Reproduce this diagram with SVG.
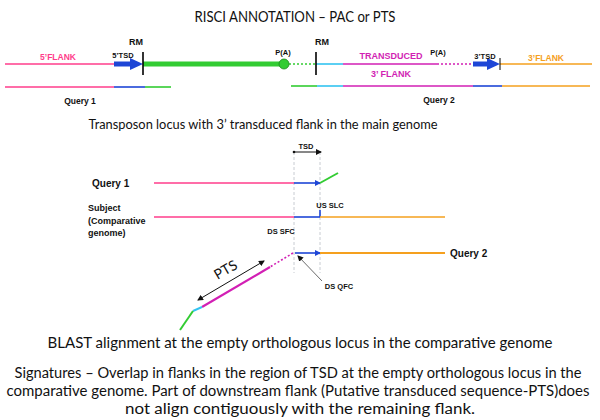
<svg xmlns="http://www.w3.org/2000/svg" width="600" height="420" viewBox="0 0 600 420">
<defs>
<style>
.t{font-family:Lato,"Open Sans","Liberation Sans",sans-serif;fill:#111}
.b{font-family:"Liberation Sans",Arial,sans-serif;font-weight:bold;fill:#111}
.pk{stroke:#ff3d8b;stroke-width:1.6;fill:none}
.mg{stroke:#d21fb4;stroke-width:1.6;fill:none}
.gr{stroke:#33cc33;stroke-width:1.6;fill:none}
.bl{stroke:#1e46d6;stroke-width:1.6;fill:none}
.cy{stroke:#33c3f0;stroke-width:1.6;fill:none}
.or{stroke:#f5a01e;stroke-width:1.6;fill:none}
.tk{stroke:#000;stroke-width:1.6}
.vd{stroke:#c8ccd2;stroke-width:1;stroke-dasharray:3,2}
</style>
<marker id="ab" markerWidth="6" markerHeight="6" refX="5" refY="3" orient="auto" markerUnits="userSpaceOnUse"><path d="M0,0 L6,3 L0,6 z" fill="#1e46d6"/></marker>
<marker id="ak" markerWidth="6" markerHeight="6" refX="5" refY="3" orient="auto-start-reverse" markerUnits="userSpaceOnUse"><path d="M0,0 L6,3 L0,6 z" fill="#111"/></marker>
</defs>
<text class="t" x="295" y="22" font-size="15" text-anchor="middle" textLength="201" lengthAdjust="spacingAndGlyphs">RISCI ANNOTATION – PAC or PTS</text>

<g id="connectors">
<!-- top locus -->
<line class="pk" x1="5" y1="64" x2="116" y2="64"/>
<line x1="114" y1="64" x2="131" y2="64" stroke="#1e46d6" stroke-width="5"/>
<path d="M130,58 L143,64 L130,70 z" fill="#1e46d6"/>
<line x1="143" y1="64" x2="280" y2="64" stroke="#33cc33" stroke-width="5"/>
<line x1="289" y1="64" x2="316" y2="64" stroke="#33cc33" stroke-width="1.6" stroke-dasharray="2,2"/>
<line class="cy" x1="316" y1="64" x2="343" y2="64"/>
<line class="mg" x1="343" y1="64" x2="437" y2="64"/>
<line x1="437" y1="64" x2="473" y2="64" stroke="#d21fb4" stroke-width="1.6" stroke-dasharray="2,2"/>
<line x1="473" y1="64" x2="488" y2="64" stroke="#1e46d6" stroke-width="5"/>
<path d="M487,58 L500,64 L487,70 z" fill="#1e46d6"/>
<line class="or" x1="500" y1="64" x2="592" y2="64"/>
<line x1="500" y1="58" x2="500" y2="70" stroke="#000" stroke-width="1"/>
<!-- query rows -->
<line class="pk" x1="5" y1="87" x2="114" y2="87"/>
<line class="bl" x1="114" y1="87" x2="145" y2="87"/>
<line class="gr" x1="145" y1="87" x2="171" y2="87"/>
<line class="gr" x1="291" y1="86" x2="317" y2="86"/>
<line class="cy" x1="317" y1="86" x2="343" y2="86"/>
<line class="mg" x1="343" y1="86" x2="473" y2="86"/>
<line class="bl" x1="473" y1="86" x2="502" y2="86"/>
<line class="or" x1="502" y1="86" x2="590" y2="86"/>

<!-- middle diagram -->
<line class="vd" x1="294" y1="152" x2="294" y2="273"/>
<line class="vd" x1="320" y1="152" x2="320" y2="273"/>
<line x1="294" y1="152" x2="321" y2="152" stroke="#111" stroke-width="1" marker-end="url(#ak)"/>
<circle cx="294" cy="152" r="1.3" fill="#111"/>
<line class="pk" x1="154" y1="183" x2="294" y2="183"/>
<line class="bl" x1="294" y1="183" x2="320" y2="183" marker-end="url(#ab)"/>
<line x1="320" y1="183" x2="338" y2="173" stroke="#33cc33" stroke-width="2"/>
<line class="pk" x1="154" y1="217" x2="294" y2="217"/>
<line class="bl" x1="294" y1="217" x2="320" y2="217"/>
<line class="bl" x1="320" y1="217" x2="320" y2="210"/>
<line class="or" x1="320" y1="217" x2="445" y2="217"/>
<line class="bl" x1="295" y1="253" x2="320" y2="253" marker-end="url(#ab)"/>
<line x1="320" y1="253" x2="445" y2="253" stroke="#f5a01e" stroke-width="2"/>
<line x1="293" y1="253" x2="270" y2="267" stroke="#d21fb4" stroke-width="1.6" stroke-dasharray="2,2"/>
<line x1="270" y1="267" x2="202" y2="307" stroke="#d21fb4" stroke-width="2.2"/>
<line x1="202" y1="307" x2="193" y2="311" stroke="#33c3f0" stroke-width="2"/>
<line x1="193" y1="311" x2="180" y2="330" stroke="#33cc33" stroke-width="2"/>
<line x1="198" y1="300" x2="264" y2="261" stroke="#111" stroke-width="1" marker-start="url(#ak)" marker-end="url(#ak)"/>
<line x1="322" y1="281" x2="298" y2="256" stroke="#444" stroke-width="0.8" marker-end="url(#ak)"/>
</g>

<g id="ticks">
<line class="tk" x1="143" y1="52" x2="143" y2="75"/>
<line class="tk" x1="316" y1="52" x2="316" y2="75"/>
<circle cx="284" cy="64" r="5" fill="#33cc33" stroke="#1a8a1a" stroke-width="0.8"/>
</g>

<g id="labels-top">
<text class="b" x="136" y="45" font-size="9" text-anchor="middle">RM</text>
<text class="b" x="322" y="45" font-size="9" text-anchor="middle">RM</text>
<text class="b" x="58" y="60" font-size="8.5" text-anchor="middle" style="fill:#ff3d8b">5’FLANK</text>
<text class="b" x="123" y="58" font-size="7.5" text-anchor="middle">5’TSD</text>
<text class="b" x="283" y="55" font-size="7.5" text-anchor="middle">P(A)</text>
<text class="b" x="391" y="59" font-size="9" text-anchor="middle" style="fill:#d21fb4">TRANSDUCED</text>
<text class="b" x="391" y="77" font-size="9" text-anchor="middle" style="fill:#d21fb4">3’ FLANK</text>
<text class="b" x="438" y="55" font-size="7.5" text-anchor="middle">P(A)</text>
<text class="b" x="485" y="59" font-size="7.5" text-anchor="middle">3’TSD</text>
<text class="b" x="546" y="61" font-size="8.5" text-anchor="middle" style="fill:#f5a01e">3’FLANK</text>
<text class="b" x="80" y="104" font-size="8.5" text-anchor="middle">Query 1</text>
<text class="b" x="439" y="103" font-size="8.5" text-anchor="middle">Query 2</text>
</g>

<text class="t" x="263" y="129" font-size="13.5" text-anchor="middle" textLength="349" lengthAdjust="spacingAndGlyphs">Transposon locus with 3’ transduced flank in the main genome</text>

<g id="labels-mid">
<text class="b" x="306" y="149" font-size="7.5" text-anchor="middle">TSD</text>
<text class="b" x="92" y="187" font-size="10">Query 1</text>
<text class="b" x="88" y="211" font-size="9">Subject</text>
<text class="b" x="88" y="224" font-size="9">(Comparative</text>
<text class="b" x="88" y="236" font-size="9">genome)</text>
<text class="b" x="330" y="208" font-size="7.5" text-anchor="middle">US SLC</text>
<text class="b" x="281" y="234" font-size="7.5" text-anchor="middle">DS SFC</text>
<text class="b" x="450" y="257" font-size="10">Query 2</text>
<text class="b" x="339" y="289" font-size="7.5" text-anchor="middle">DS QFC</text>
<text class="t" x="0" y="0" font-size="14" text-anchor="middle" transform="translate(228,274) rotate(-30)">PTS</text>
</g>

<g id="captions">
<text class="t" x="300" y="348" font-size="15" text-anchor="middle" textLength="505" lengthAdjust="spacingAndGlyphs">BLAST alignment at the empty orthologous locus in the comparative genome</text>
<text class="t" x="298" y="378" font-size="14.5" text-anchor="middle" textLength="567" lengthAdjust="spacingAndGlyphs">Signatures – Overlap in flanks in the region of TSD at the empty orthologous locus in the</text>
<text class="t" x="298" y="396" font-size="14.5" text-anchor="middle" textLength="583" lengthAdjust="spacingAndGlyphs">comparative genome. Part of downstream flank (Putative transduced sequence-PTS)does</text>
<text class="t" x="300" y="414" font-size="14.5" text-anchor="middle" textLength="350" lengthAdjust="spacingAndGlyphs">not align contiguously with the remaining flank.</text>
</g>
</svg>
